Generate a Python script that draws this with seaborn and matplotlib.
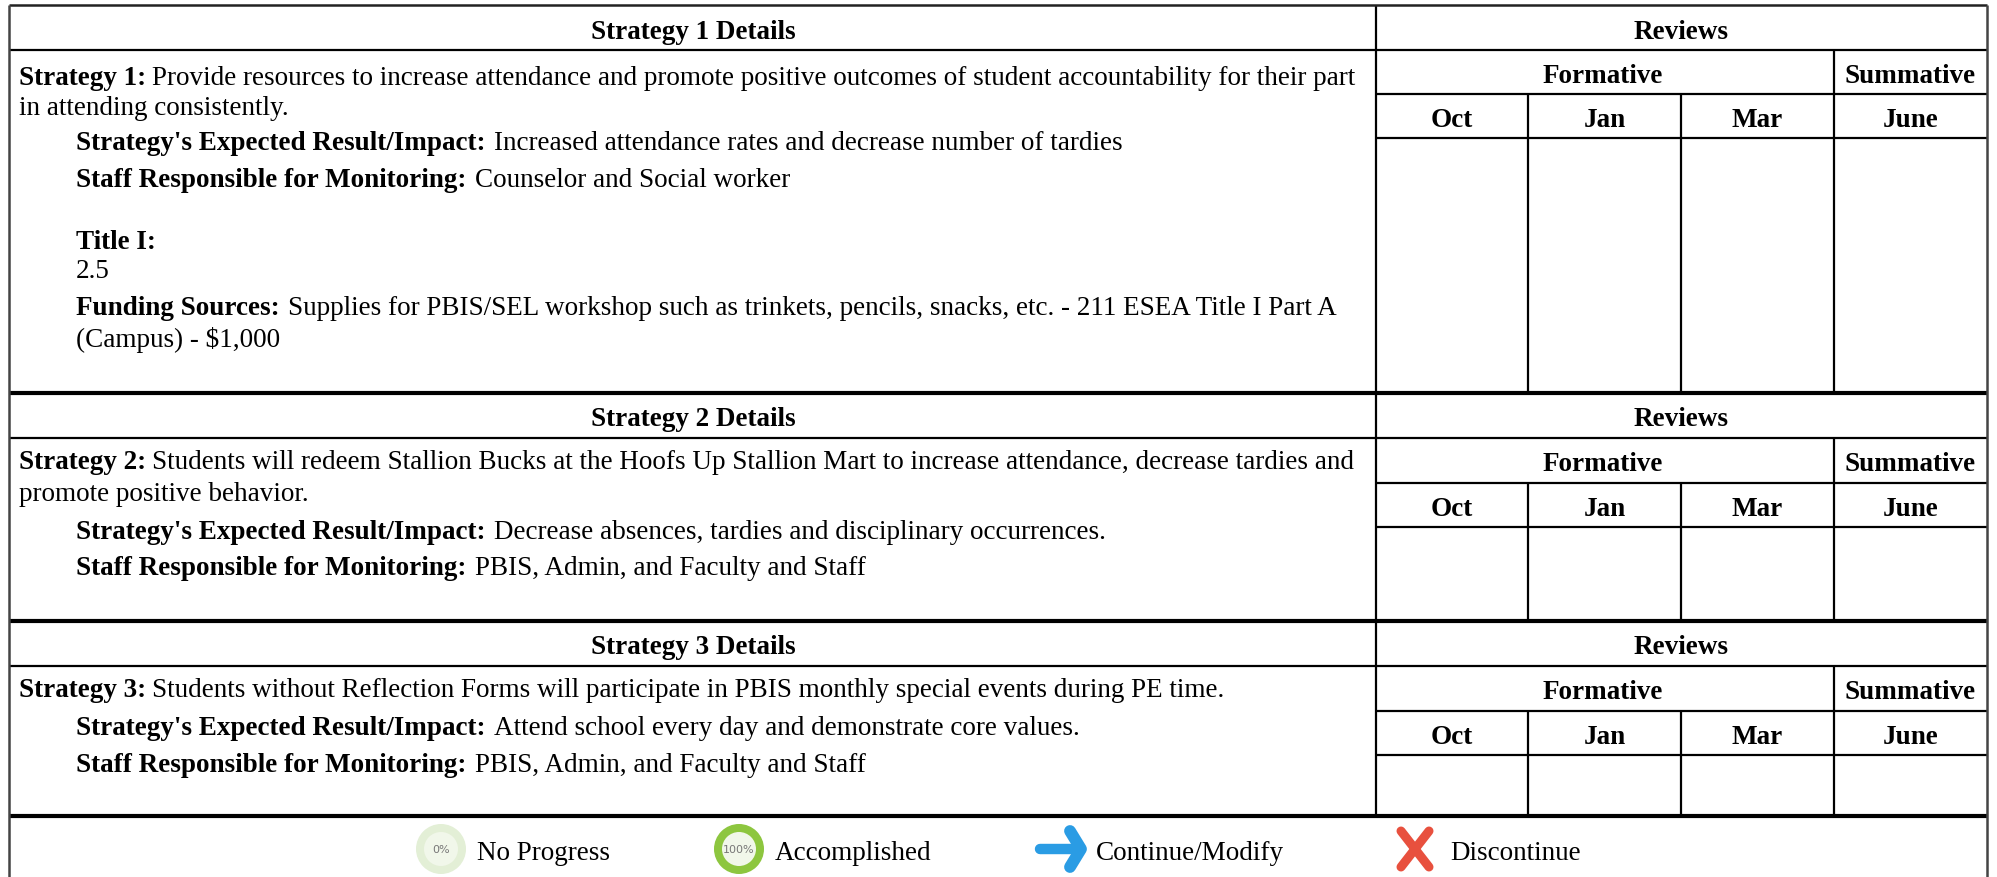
import matplotlib
matplotlib.use('Agg')
import matplotlib.pyplot as plt
import pandas as pd
import seaborn as sns
from matplotlib.patches import Circle

sns.set_theme(style='white')
plt.rcParams['font.family'] = ['Liberation Serif', 'DejaVu Serif']

FS = 19.5

# table geometry, in pixels of the page
left, right = 9, 1987
detail_x = 1376
month_x = [1376, 1528, 1681, 1834, 1987]

# top, header bottom, formative bottom, month bottom, table bottom
tables = [
    (6, 51, 95, 139, 394),
    (394, 439, 484, 528, 622),
    (622, 667, 712, 756, 817),
]
header_base = [39, 426, 654]

details = ['Strategy 1 Details', 'Strategy 2 Details', 'Strategy 3 Details']
months = ['Oct', 'Jan', 'Mar', 'June']

# (bold part, regular part, x, baseline y)
lines = [
    ('Strategy 1:', 'Provide resources to increase attendance and promote positive outcomes of student accountability for their part', 19, 85),
    ('', 'in attending consistently.', 19, 115),
    ("Strategy's Expected Result/Impact:", 'Increased attendance rates and decrease number of tardies', 76, 150),
    ('Staff Responsible for Monitoring:', 'Counselor and Social worker', 76, 187),
    ('Title I:', '', 76, 249),
    ('', '2.5', 76, 278),
    ('Funding Sources:', 'Supplies for PBIS/SEL workshop such as trinkets, pencils, snacks, etc. - 211 ESEA Title I Part A', 76, 315),
    ('', '(Campus) - $1,000', 76, 347),
    ('Strategy 2:', 'Students will redeem Stallion Bucks at the Hoofs Up Stallion Mart to increase attendance, decrease tardies and', 19, 469),
    ('', 'promote positive behavior.', 19, 501),
    ("Strategy's Expected Result/Impact:", 'Decrease absences, tardies and disciplinary occurrences.', 76, 539),
    ('Staff Responsible for Monitoring:', 'PBIS, Admin, and Faculty and Staff', 76, 575),
    ('Strategy 3:', 'Students without Reflection Forms will participate in PBIS monthly special events during PE time.', 19, 697),
    ("Strategy's Expected Result/Impact:", 'Attend school every day and demonstrate core values.', 76, 735),
    ('Staff Responsible for Monitoring:', 'PBIS, Admin, and Faculty and Staff', 76, 772),
]

legend_labels = ['No Progress', 'Accomplished', 'Continue/Modify', 'Discontinue']
legend_text_x = [477, 775, 1096, 1450]
legend_y = 860


def rule(ax, x0, y0, x1, y1, lw=1.6, color='black'):
    seg = pd.DataFrame({'x': [x0, x1], 'y': [y0, y1]})
    sns.lineplot(data=seg, x='x', y='y', ax=ax, color=color, linewidth=lw,
                 estimator=None, sort=False, solid_capstyle='butt', legend=False)


def mixed_text(ax, bold, regular, x, y):
    if bold:
        t = ax.text(x, y, bold, fontsize=FS, fontweight='bold', va='baseline', color='black')
        gap = 6 if bold.startswith('Strategy ') and x < 50 else 8.5
        x = t.get_window_extent(renderer=fig.canvas.get_renderer()).x1 + gap
    if regular:
        ax.text(x, y, regular, fontsize=FS, va='baseline', color='black')


def bold_center(ax, x, y, s):
    ax.text(x, y, s, fontsize=FS, fontweight='bold', ha='center', va='baseline', color='black')


fig = plt.figure(figsize=(19.97, 8.78), dpi=100)
ax = fig.add_axes([0, 0, 1, 1])
ax.set_xlim(0, 1997)
ax.set_ylim(878, 0)
ax.autoscale(False)

for details_name, base, (top, head, form, mon, bottom) in zip(details, header_base, tables):
    rule(ax, left, head, right, head)
    rule(ax, detail_x, form, right, form)
    rule(ax, detail_x, mon, right, mon)
    rule(ax, detail_x, top, detail_x, bottom)
    rule(ax, month_x[3], head, month_x[3], bottom)
    rule(ax, month_x[1], form, month_x[1], bottom)
    rule(ax, month_x[2], form, month_x[2], bottom)
    rule(ax, left, bottom, right, bottom, lw=3)

    bold_center(ax, 693, base, details_name)
    bold_center(ax, (detail_x + right) / 2, base, 'Reviews')
    bold_center(ax, (month_x[0] + month_x[3]) / 2 - 2, head + 32, 'Formative')
    bold_center(ax, (month_x[3] + month_x[4]) / 2, head + 32, 'Summative')
    for i, m in enumerate(months):
        bold_center(ax, (month_x[i] + month_x[i + 1]) / 2, form + 32, m)

# outer frame
rule(ax, left, 6, right, 6, lw=1.8, color='#222222')
rule(ax, left, 6, left, 878, lw=1.8, color='#444444')
rule(ax, right, 6, right, 878, lw=1.8, color='#444444')

for bold, regular, x, y in lines:
    mixed_text(ax, bold, regular, x, y)

for label, x in zip(legend_labels, legend_text_x):
    ax.text(x, legend_y, label, fontsize=FS, va='baseline', color='black')

# legend icons
ax.add_patch(Circle((441, 850), 25, fc='#E3EFD6', ec='none'))
ax.add_patch(Circle((441, 850), 17, fc='#F1F7EA', ec='none'))
ax.text(441, 850, '0%', fontsize=8, ha='center', va='center', color='#777777',
        family=['DejaVu Sans'])
ax.add_patch(Circle((739, 850), 25, fc='#8DC63F', ec='none'))
ax.add_patch(Circle((739, 850), 17, fc='#F1F7EA', ec='none'))
ax.text(739, 850, '100%', fontsize=8, ha='center', va='center', color='#777777',
        family=['DejaVu Sans'])

blue = '#2A9CE4'
ax.plot([1040, 1078], [850, 850], color=blue, lw=7.5, solid_capstyle='round')
ax.plot([1070, 1081, 1070], [832, 850, 868], color=blue, lw=8.5, solid_capstyle='round',
        solid_joinstyle='round')
red = '#E8503E'
ax.plot([1401, 1429], [832, 868], color=red, lw=6.5, solid_capstyle='round')
ax.plot([1429, 1401], [832, 868], color=red, lw=6.5, solid_capstyle='round')

ax.axis('off')

fig.savefig('out.png', dpi=100)
